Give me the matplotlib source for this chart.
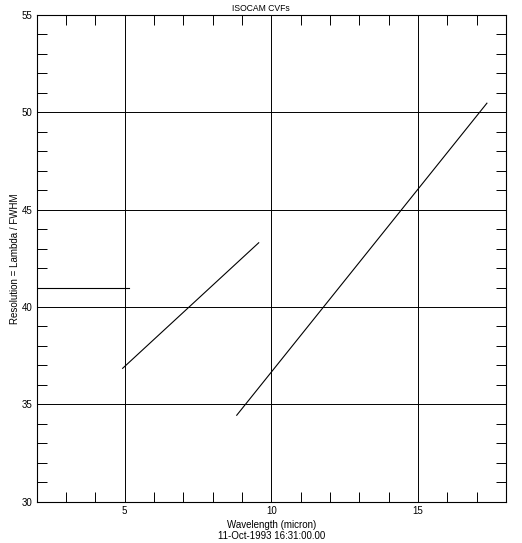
import matplotlib
matplotlib.use("Agg")
import matplotlib.pyplot as plt
from matplotlib.ticker import MultipleLocator

# CVF segments: (wavelength, resolution)
cvf_flat_x = [2.0, 5.15]
cvf_flat_y = [41.0, 41.0]
cvf_sw_x = [4.93, 9.57]
cvf_sw_y = [36.85, 43.3]
cvf_lw_x = [8.82, 17.35]
cvf_lw_y = [34.44, 50.47]

x_ticks = [5, 10, 15]
y_ticks = [30, 35, 40, 45, 50, 55]

plt.rcParams["font.family"] = ["Liberation Sans", "DejaVu Sans"]

fig = plt.figure(figsize=(5.22, 5.43), dpi=100)
ax = fig.add_axes([0.0703, 0.0761, 0.8990, 0.8963])

for xs, ys in [(cvf_flat_x, cvf_flat_y), (cvf_sw_x, cvf_sw_y), (cvf_lw_x, cvf_lw_y)]:
    ax.plot(xs, ys, color="black", linewidth=0.8)

ax.set_xlim(2, 18)
ax.set_ylim(30, 55)
ax.set_xticks(x_ticks)
ax.set_yticks(y_ticks)
ax.xaxis.set_minor_locator(MultipleLocator(1))
ax.yaxis.set_minor_locator(MultipleLocator(1))
ax.grid(True, which="major", color="black", linewidth=0.7)
ax.tick_params(which="both", direction="in", length=7, width=0.7,
               top=True, right=True, labelsize=7, pad=3)
ax.tick_params(which="major", length=0)
for side in ax.spines.values():
    side.set_linewidth(0.8)

ax.set_title("ISOCAM CVFs", fontsize=6.2, pad=3, x=0.478)
ax.set_xlabel("Wavelength (micron)\n11-Oct-1993 16:31:00.00", fontsize=7,
              labelpad=3, linespacing=1.1)
ax.set_ylabel("Resolution = Lambda / FWHM", fontsize=7, labelpad=1)

fig.savefig("out.png", dpi=100)
